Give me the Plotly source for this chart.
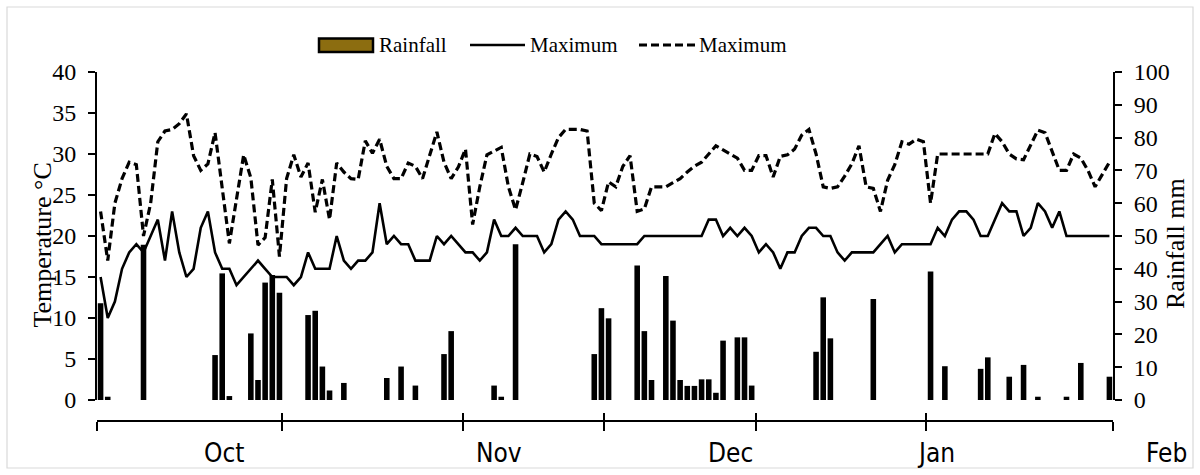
import plotly.graph_objects as go

# ---------------- data ----------------
DAY = list(range(1, 143))

RAIN = [
    29.5, 1, 0, 0, 0, 0, 47.3, 0, 0, 0,
    0, 0, 0, 0, 0, 0, 13.7, 38.6, 1.2, 0,
    0, 20.3, 6.1, 35.8, 38.1, 32.7, 0, 0, 0, 25.9,
    27.2, 10.2, 2.9, 0, 5.2, 0, 0, 0, 0, 0,
    6.7, 0, 10.2, 0, 4.4, 0, 0, 0, 14, 21,
    0, 0, 0, 0, 0, 4.4, 1, 0, 47.5, 0,
    0, 0, 0, 0, 0, 0, 0, 0, 0, 14,
    28, 24.9, 0, 0, 0, 41, 21, 6.1, 0, 37.8,
    24.2, 6.1, 4.3, 4.3, 6.3, 6.3, 2.2, 18.1, 0, 19.1,
    19.1, 4.4, 0, 0, 0, 0, 0, 0, 0, 0,
    14.7, 31.3, 18.8, 0, 0, 0, 0, 0, 30.8, 0,
    0, 0, 0, 0, 0, 0, 39.2, 0, 10.3, 0,
    0, 0, 0, 9.5, 13, 0, 0, 7.1, 0, 10.7,
    0, 1, 0, 0, 0, 1, 0, 11.3, 0, 0,
    0, 7.1,
]

T_SOLID = [
    15, 10, 12, 16, 18, 19, 18, 20, 22, 17,
    23, 18, 15, 16, 21, 23, 18, 16, 16, 14,
    15, 16, 17, 16, 15, 15, 15, 14, 15, 18,
    16, 16, 16, 20, 17, 16, 17, 17, 18, 24,
    19, 20, 19, 19, 17, 17, 17, 20, 19, 20,
    19, 18, 18, 17, 18, 22, 20, 20, 21, 20,
    20, 20, 18, 19, 22, 23, 22, 20, 20, 20,
    19, 19, 19, 19, 19, 19, 20, 20, 20, 20,
    20, 20, 20, 20, 20, 22, 22, 20, 21, 20,
    21, 20, 18, 19, 18, 16, 18, 18, 20, 21,
    21, 20, 20, 18, 17, 18, 18, 18, 18, 19,
    20, 18, 19, 19, 19, 19, 19, 21, 20, 22,
    23, 23, 22, 20, 20, 22, 24, 23, 23, 20,
    21, 24, 23, 21, 23, 20, 20, 20, 20, 20,
    20, 20,
]

T_DASH = [
    23, 17, 24, 27, 29, 28.7, 20, 24, 31.5, 32.8,
    33, 33.7, 34.9, 29.8, 28, 28.8, 32.6, 26.2, 19.1, 24.5,
    29.9, 27.1, 18.9, 19.8, 26.9, 17.5, 27, 29.9, 27.2, 28.9,
    22.9, 26.9, 22, 28.9, 27.8, 27, 26.9, 31.6, 30.1, 31.8,
    28.5, 27, 27, 28.9, 28.5, 27, 29.9, 32.7, 29, 27,
    28.4, 30.6, 21.4, 26, 29.9, 30.4, 30.8, 26, 23.2, 26.5,
    30, 29.7, 27.8, 30, 32, 33, 33, 33, 32.8, 24,
    23.1, 26.6, 26, 28.5, 29.8, 23, 23.3, 26, 26, 26,
    26.5, 27, 27.8, 28.5, 29, 30, 31, 30.5, 30, 29.5,
    28, 28, 29.8, 29.8, 27.2, 29.7, 29.9, 30.6, 32.3, 33,
    30, 26, 25.8, 26, 27.3, 28.8, 31, 26, 25.8, 23,
    26.8, 28.7, 31.5, 31.2, 31.8, 31.5, 24, 30, 30, 30,
    30, 30, 30, 30, 30, 32.5, 31.5, 30, 29.4, 29.3,
    31.2, 32.9, 32.6, 30.3, 28, 28, 30, 29.5, 28, 26,
    27.6, 29,
]

MONTHS = ["Oct", "Nov", "Dec", "Jan", "Feb"]
SERIES_NAMES = ["Rainfall", "Maximum", "Maximum"]
Y_TITLES = ["Temperature °C", "Rainfall mm"]

# ---------------- layout constants ----------------
MONTH_BOUNDS = [0.5, 26.4, 51.7, 71.4, 92.6, 116.4, 142.5]
MONTH_LABEL_AT = [18.2, 56.7, 89.1, 117.8, 150.0]

W, H = 1200, 475
ML, MR, MT, MB = 97, 87, 72, 54      # paper: x 97..1113, y 72..421
PW, PH = W - ML - MR, H - MT - MB
XR = [0.5, 142.5]


def px(x):
    return (x - ML) / PW


def py(y):
    return (H - MB - y) / PH


def day_to_paper(d):
    return (d - XR[0]) / (XR[1] - XR[0])


SERIF = "Liberation Serif, Times New Roman, serif"
SANS_C = "DejaVu Sans Condensed, Liberation Sans Narrow, DejaVu Sans, sans-serif"

fig = go.Figure()
fig.add_trace(go.Bar(
    x=DAY, y=RAIN, name=SERIES_NAMES[0], width=0.78,
    marker=dict(color="black", line=dict(width=0)),
    xaxis="x", yaxis="y", showlegend=False,
))
fig.add_trace(go.Scatter(
    x=DAY, y=T_SOLID, name=SERIES_NAMES[1], mode="lines",
    line=dict(color="black", width=2.6),
    xaxis="x2", yaxis="y2", showlegend=False,
))
fig.add_trace(go.Scatter(
    x=DAY, y=T_DASH, name=SERIES_NAMES[2], mode="lines",
    line=dict(color="black", width=3.2, dash="8px,4px"),
    xaxis="x3", yaxis="y2", showlegend=False,
))

yax_common = dict(
    showline=True, linecolor="black", linewidth=2,
    ticks="outside", ticklen=7, tickwidth=1.5, tickcolor="black",
    showgrid=False, zeroline=False, tickmode="linear", tick0=0,
    tickfont=dict(family=SERIF, size=24, color="black"),
    ticklabelstandoff=7,
)
xax_month = dict(
    overlaying="x", anchor="free", position=0, range=XR,
    tickmode="array", tickvals=MONTH_BOUNDS, ticktext=[""] * len(MONTH_BOUNDS),
    tickwidth=1.5, tickcolor="black", showgrid=False, zeroline=False,
)

fig.update_layout(
    width=W, height=H,
    margin=dict(l=ML, r=MR, t=MT, b=MB, autoexpand=False),
    paper_bgcolor="white", plot_bgcolor="white",
    showlegend=False, bargap=0.2,
    xaxis=dict(range=XR, domain=[0, 1], anchor="y", visible=False),
    yaxis=dict(range=[0, 100], dtick=10, domain=[py(400), 1], side="right",
               anchor="x", **yax_common),
    yaxis2=dict(range=[0, 40], dtick=5, overlaying="y", side="left",
                anchor="x", **yax_common),
    xaxis2=dict(showline=True, linecolor="black", linewidth=2,
                ticks="outside", ticklen=9, **xax_month),
    xaxis3=dict(showline=False, ticks="inside", ticklen=8, **xax_month),
)

# axis titles
fig.add_annotation(x=px(41.5), y=py(245), xref="paper", yref="paper",
                   text=Y_TITLES[0], textangle=-90, showarrow=False,
                   xanchor="center", yanchor="middle",
                   font=dict(family=SERIF, size=26, color="black"))
fig.add_annotation(x=px(1175), y=py(244), xref="paper", yref="paper",
                   text=Y_TITLES[1], textangle=-90, showarrow=False,
                   xanchor="center", yanchor="middle",
                   font=dict(family=SERIF, size=26, color="black"))

# month labels
for m, pos in zip(MONTHS, MONTH_LABEL_AT):
    fig.add_annotation(
        x=day_to_paper(pos), xref="paper", y=py(453), yref="paper", text=m,
        showarrow=False, xanchor="center", yanchor="middle",
        font=dict(family=SANS_C, size=26, color="black"),
    )

# legend (drawn manually to get the wide swatch)
ly = py(45)
fig.add_shape(type="rect", xref="paper", yref="paper",
              x0=px(319), x1=px(373), y0=py(52), y1=py(38.5),
              fillcolor="#8C6D10", line=dict(color="black", width=2.5))
fig.add_shape(type="line", xref="paper", yref="paper",
              x0=px(470), x1=px(525), y0=ly, y1=ly,
              line=dict(color="black", width=2.6))
fig.add_shape(type="line", xref="paper", yref="paper",
              x0=px(639), x1=px(695), y0=ly, y1=ly,
              line=dict(color="black", width=3.2, dash="8px,4px"))
for name, xl in zip(SERIES_NAMES, [377, 528, 697]):
    fig.add_annotation(
        x=px(xl), xref="paper", y=ly, yref="paper", text=name, showarrow=False,
        xanchor="left", yanchor="middle",
        font=dict(family=SERIF, size=21, color="black"),
    )

# outer frame
fig.add_shape(type="rect", xref="paper", yref="paper",
              x0=px(7), x1=px(1193), y0=py(468), y1=py(7),
              line=dict(color="#d9d9d9", width=1.2), fillcolor="rgba(0,0,0,0)",
              layer="below")

fig.write_html("out.html",
               config={"displayModeBar": False},
               post_script="document.body.style.margin='0px';document.body.style.overflow='hidden';")
